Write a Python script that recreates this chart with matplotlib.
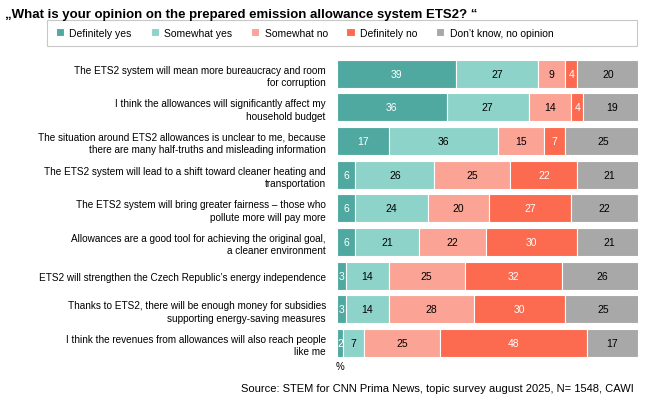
import numpy as np
import matplotlib.pyplot as plt
from matplotlib.patches import Rectangle

plt.rcParams['font.family'] = ['Liberation Sans', 'DejaVu Sans']

statements = [
    "The ETS2 system will mean more bureaucracy and room\nfor corruption",
    "I think the allowances will significantly affect my\nhousehold budget",
    "The situation around ETS2 allowances is unclear to me, because\nthere are many half-truths and misleading information",
    "The ETS2 system will lead to a shift toward cleaner heating and\ntransportation",
    "The ETS2 system will bring greater fairness \u2013 those who\npollute more will pay more",
    "Allowances are a good tool for achieving the original goal,\na cleaner environment",
    "ETS2 will strengthen the Czech Republic\u2019s energy independence",
    "Thanks to ETS2, there will be enough money for subsidies\nsupporting energy-saving measures",
    "I think the revenues from allowances will also reach people\nlike me",
]
series = ["Definitely yes", "Somewhat yes", "Somewhat no", "Definitely no", "Don\u2019t know, no opinion"]
def_yes = [39, 36, 17, 6, 6, 6, 3, 3, 2]
some_yes = [27, 27, 36, 26, 24, 21, 14, 14, 7]
some_no = [9, 14, 15, 25, 20, 22, 25, 28, 25]
def_no = [4, 4, 7, 22, 27, 30, 32, 30, 48]
dont_know = [20, 19, 25, 21, 22, 21, 26, 25, 17]

colors = ["#4fa9a0", "#8dd3c9", "#fba495", "#fc6a4f", "#a8a8a8"]
text_colors = ["white", "black", "black", "white", "black"]

fig = plt.figure(figsize=(6.48, 4.10), dpi=100)
ax = fig.add_axes([0.52, 0.12, 0.465, 0.739])

data = [def_yes, some_yes, some_no, def_no, dont_know]
y = np.arange(len(statements))
left = np.zeros(len(statements))
for vals, c, tc, name in zip(data, colors, text_colors, series):
    vals = np.array(vals, dtype=float)
    ax.barh(y, vals, left=left, color=c, height=0.83, edgecolor='white', linewidth=0.8, label=name)
    for yi, (l, v) in enumerate(zip(left, vals)):
        ax.text(l + v / 2, yi, str(int(v)), ha='center', va='center', fontsize=7.5, color=tc)
    left += vals

ax.set_xlim(0, sum(d[0] for d in data))
ax.set_ylim(len(statements) - 0.5, -0.5)
ax.set_yticks(y)
ax.set_yticklabels(statements, fontsize=7.2, ha='right', linespacing=1.3)
ax.tick_params(axis='y', length=0, pad=8)
ax.set_xticks([])
for s in ax.spines.values():
    s.set_visible(False)

fig.text(0.008, 0.955, "\u201eWhat is your opinion on the prepared emission allowance system ETS2? \u201c",
         fontsize=9.5, fontweight='bold')
fig.add_artist(Rectangle((0.073, 0.885), 0.91, 0.065, transform=fig.transFigure,
                         fill=False, edgecolor='#c8c8c8', linewidth=0.8))
handles, labels = ax.get_legend_handles_labels()
fig.legend(handles, labels, loc='center', bbox_to_anchor=(0.47, 0.918), ncol=5, frameon=False,
           fontsize=7.5, handlelength=0.8, handleheight=0.8, columnspacing=1.8, handletextpad=0.5)
fig.text(0.518, 0.098, "%", fontsize=7)
fig.text(0.978, 0.045, "Source: STEM for CNN Prima News, topic survey august 2025, N= 1548, CAWI",
         fontsize=8, ha='right')

plt.savefig("out.png", dpi=100)
